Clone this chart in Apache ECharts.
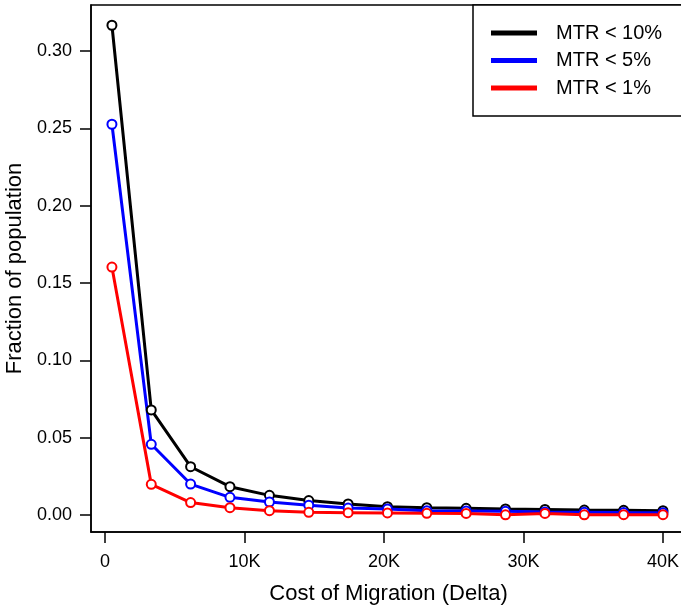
<!DOCTYPE html>
<html>
<head>
<meta charset="utf-8">
<script src="https://cdn.jsdelivr.net/npm/echarts@6/dist/echarts.min.js"></script>
<style>
  html, body { margin: 0; padding: 0; background: #fff; }
  #chart { width: 681px; height: 608px; }
</style>
</head>
<body>
<div id="chart"></div>
<script>
// cost of migration (x) for each point
const costs = [500, 3320, 6140, 8960, 11790, 14610, 17430, 20250, 23070, 25890, 28710, 31540, 34360, 37180, 40000];

const mtr10 = [0.3166, 0.0679, 0.0312, 0.0183, 0.0127, 0.0093, 0.0071, 0.0054, 0.0047, 0.0043, 0.0039, 0.0036, 0.0032, 0.0030, 0.0028];
const mtr5 = [0.2526, 0.0457, 0.0200, 0.0114, 0.0084, 0.0063, 0.0045, 0.0039, 0.0028, 0.0026, 0.0024, 0.0020, 0.0018, 0.0016, 0.0015];
const mtr1 = [0.1603, 0.0198, 0.0080, 0.0047, 0.0028, 0.0017, 0.0015, 0.0013, 0.0011, 0.0010, 0.0001, 0.0010, 0.0001, 0.0002, 0.0002];

const seriesNames = ['MTR < 10%', 'MTR < 5%', 'MTR < 1%'];
const seriesColors = ['#000000', '#0000ff', '#ff0000'];

const xTicks = [0, 10000, 20000, 30000, 40000];
const xTickLabels = ['0', '10K', '20K', '30K', '40K'];
const yTicks = [0, 0.05, 0.10, 0.15, 0.20, 0.25, 0.30];

const font = "'Liberation Sans', Arial, Helvetica, sans-serif";

const chart = echarts.init(document.getElementById('chart'));

const makeSeries = (name, values, color) => ({
  name: name,
  type: 'line',
  data: values.map((v, i) => [costs[i], v]),
  symbol: 'emptyCircle',
  symbolSize: 9,
  showSymbol: true,
  itemStyle: { color: color, borderColor: color, borderWidth: 3 },
  lineStyle: { color: color, width: 3 },
  emphasis: { disabled: true },
  animation: false,
});

const option = {
  animation: false,
  grid: {
    left: 91,
    top: 5,
    width: 595,
    height: 527,
    show: true,
    borderColor: '#000',
    borderWidth: 1.5,
    containLabel: false,
    outerBoundsMode: 'none',
  },
  legend: {
    left: 473,
    top: 5,
    orient: 'vertical',
    data: seriesNames,
    icon: 'rect',
    itemWidth: 44,
    itemHeight: 3,
    itemGap: 7.5,
    padding: [18, 30, 18, 18],
    borderColor: '#000',
    borderWidth: 1.5,
    backgroundColor: '#fff',
    textStyle: {
      fontFamily: font,
      fontSize: 20,
      color: '#000',
      lineHeight: 20,
      padding: [0, 0, 0, 15],
    },
  },
  xAxis: {
    type: 'value',
    min: -1000,
    max: 41650,
    name: 'Cost of Migration (Delta)',
    nameLocation: 'middle',
    nameGap: 51,
    nameTextStyle: { fontFamily: font, fontSize: 22, color: '#000' },
    axisLine: { show: true, onZero: false, lineStyle: { color: '#000', width: 1.5 } },
    axisTick: { show: true, length: 11, customValues: xTicks, lineStyle: { color: '#000', width: 1.5 } },
    axisLabel: {
      customValues: xTicks,
      margin: 21,
      fontFamily: font,
      fontSize: 18,
      color: '#000',
      formatter: (v) => xTickLabels[xTicks.indexOf(v)],
    },
    splitLine: { show: false },
  },
  yAxis: {
    type: 'value',
    min: -0.011,
    max: 0.3297,
    name: 'Fraction of population',
    nameLocation: 'middle',
    nameGap: 62,
    nameTextStyle: { fontFamily: font, fontSize: 22, color: '#000' },
    axisLine: { show: true, onZero: false, lineStyle: { color: '#000', width: 1.5 } },
    axisTick: { show: true, length: 11, customValues: yTicks, lineStyle: { color: '#000', width: 1.5 } },
    axisLabel: {
      customValues: yTicks,
      margin: 19,
      fontFamily: font,
      fontSize: 18,
      color: '#000',
      formatter: (v) => v.toFixed(2),
    },
    splitLine: { show: false },
  },
  series: [
    makeSeries(seriesNames[0], mtr10, seriesColors[0]),
    makeSeries(seriesNames[1], mtr5, seriesColors[1]),
    makeSeries(seriesNames[2], mtr1, seriesColors[2]),
  ],
};

chart.setOption(option);
</script>
</body>
</html>
